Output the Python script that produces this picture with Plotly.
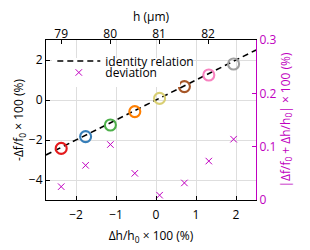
import plotly.graph_objects as go

# data
dh_pct = [-2.37, -1.76, -1.14, -0.53, 0.09, 0.71, 1.32, 1.94]          # Δh/h0 ×100 (%)
neg_df_pct = [-2.42, -1.83, -1.25, -0.58, 0.08, 0.67, 1.25, 1.80]       # -Δf/f0 ×100 (%)
deviation = [0.025, 0.065, 0.104, 0.050, 0.009, 0.032, 0.073, 0.114]   # |Δf/f0+Δh/h0| ×100
h_ticks = [79, 80, 81, 82]
identity_x = [-2.75, 2.5]
circle_colors = ["#e41a1c", "#377eb8", "#4daf4a", "#ff7f00",
                 "#d9cf73", "#a65628", "#f781bf", "#a0a0a0"]

MAG = "#c000c0"
FONT = "Open Sans"

fig = go.Figure()

fig.add_trace(go.Scatter(
    x=identity_x, y=identity_x, mode="lines",
    line=dict(color="black", width=1.6, dash="6px,4px"),
    name="identity relation", legend="legend2", showlegend=True,
))
fig.add_trace(go.Scatter(
    x=dh_pct, y=neg_df_pct, mode="markers",
    marker=dict(symbol="circle-open", size=11, color=circle_colors,
                line=dict(width=2.1, color=circle_colors)),
    showlegend=False,
))
fig.add_trace(go.Scatter(
    x=dh_pct, y=deviation, mode="markers", yaxis="y2",
    marker=dict(symbol="x-thin", size=6.5, line=dict(width=1, color=MAG), color=MAG),
    name="deviation", legend="legend", showlegend=True,
))
# invisible trace to carry the top h axis
fig.add_trace(go.Scatter(
    x=h_ticks, y=[0] * len(h_ticks), xaxis="x2", mode="markers",
    marker=dict(opacity=0), showlegend=False, hoverinfo="skip",
))

axis_font = dict(family=FONT, size=12, color="black")

fig.update_layout(
    width=310, height=250,
    margin=dict(l=46, r=54, t=40, b=50, autoexpand=False),
    paper_bgcolor="white", plot_bgcolor="white",
    font=dict(family=FONT, size=12, color="black"),
    xaxis=dict(
        range=[-2.75, 2.5], tickvals=[-2, -1, 0, 1, 2], automargin=False,
        ticks="inside", ticklen=4, tickcolor="black", ticklabelstandoff=3,
        showline=True, linecolor="black", linewidth=1.2,
        showgrid=True, gridcolor="#dedede", gridwidth=1, zeroline=False,
        title=dict(text="Δh/h<sub>0</sub> × 100 (%)", standoff=10, font=axis_font),
        tickfont=axis_font,
    ),
    xaxis2=dict(
        overlaying="x", side="top", anchor="y", automargin=False,
        range=[78.69, 82.98], tickvals=h_ticks,
        ticks="inside", ticklen=4, tickcolor="black", ticklabelstandoff=-4,
        showline=True, linecolor="black", linewidth=1.2,
        showgrid=False, zeroline=False,
        title=dict(text="h (µm)", standoff=0, font=axis_font),
        tickfont=axis_font,
    ),
    yaxis=dict(
        range=[-5, 3], tickvals=[-4, -2, 0, 2], automargin=False,
        ticks="inside", ticklen=4, tickcolor="black",
        showline=True, linecolor="black", linewidth=1.2,
        showgrid=True, gridcolor="#dedede", gridwidth=1, zeroline=False,
        title=dict(text="-Δf/f<sub>0</sub> × 100 (%)", standoff=2, font=axis_font),
        tickfont=axis_font,
    ),
    yaxis2=dict(
        overlaying="y", side="right", anchor="x", automargin=False,
        range=[0, 0.3], tickvals=[0, 0.1, 0.2, 0.3],
        ticks="inside", ticklen=4, tickcolor=MAG,
        showline=True, linecolor=MAG, linewidth=1.2,
        showgrid=False, zeroline=False,
        title=dict(text="|Δf/f<sub>0</sub> + Δh/h<sub>0</sub>| × 100 (%)", standoff=4,
                   font=dict(family=FONT, size=12, color=MAG)),
        tickfont=dict(family=FONT, size=12, color=MAG),
    ),
    legend=dict(
        x=0.03, y=0.797, xanchor="left", yanchor="middle", itemwidth=43,
        orientation="h", entrywidth=70, entrywidthmode="pixels",
        bgcolor="white", borderwidth=0, font=dict(family=FONT, size=12),
    ),
    legend2=dict(
        x=0.03, y=0.869, xanchor="left", yanchor="middle", itemwidth=43,
        bgcolor="rgba(0,0,0,0)", borderwidth=0, font=dict(family=FONT, size=12),
    ),
)

fig.write_html(
    "out.html",
    config={"displayModeBar": False},
    post_script="document.body.style.margin='0';document.body.style.padding='0';",
)
